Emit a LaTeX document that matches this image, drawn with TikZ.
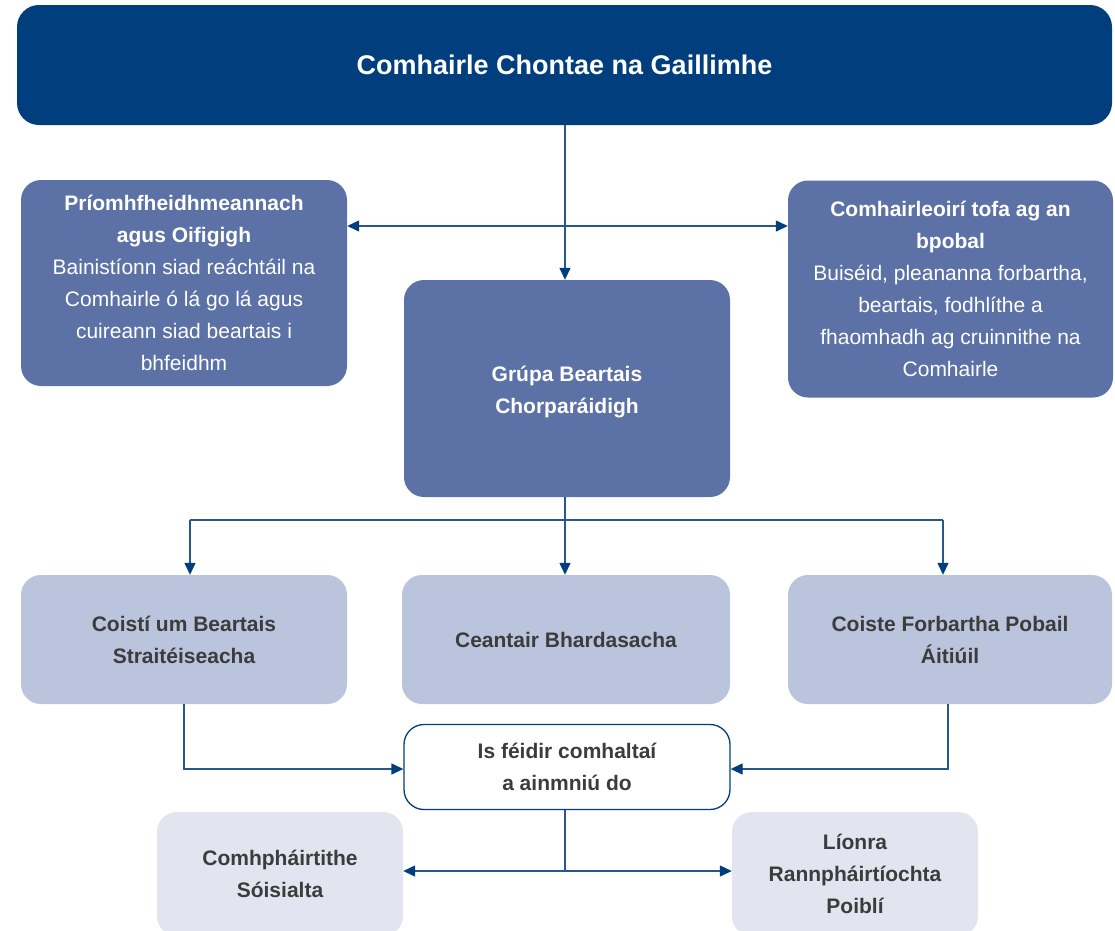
\documentclass[tikz,border=0pt]{standalone}
\usepackage{fontspec}
\setmainfont{Liberation Sans}
\usetikzlibrary{arrows.meta}
\definecolor{navy}{HTML}{003E7E}
\definecolor{midblue}{HTML}{5C72A6}
\definecolor{lightblue}{HTML}{BBC4DD}
\definecolor{paleblue}{HTML}{E2E4F0}
\definecolor{linecol}{HTML}{2A5690}
\definecolor{darktext}{HTML}{3C3C3C}
\tikzset{
  box/.style={rectangle, rounded corners=20pt, inner sep=0pt, align=center,
    font=\fontsize{21}{32}\selectfont},
  topbox/.style={box, fill=navy, text=white, rounded corners=22pt,
    font=\fontsize{27}{32}\selectfont\bfseries},
  midbox/.style={box, fill=midblue, text=white},
  lightbox/.style={box, fill=lightblue, text=darktext, font=\fontsize{21}{32}\selectfont\bfseries},
  palebox/.style={box, fill=paleblue, text=darktext, font=\fontsize{21}{32}\selectfont\bfseries},
  whitebox/.style={box, fill=white, draw=navy, line width=1.3pt, text=darktext, font=\fontsize{21}{32}\selectfont\bfseries},
  conn/.style={draw=linecol, line width=1.3pt},
  arr/.style={conn, -{Triangle[length=12pt,width=11pt,color=navy]}},
}
\begin{document}
\begin{tikzpicture}[x=1pt,y=-1pt]
\useasboundingbox (0,0) rectangle (1115,930);
\clip (0,0) rectangle (1115,930);
\fill[white] (0,0) rectangle (1115,930);

\node[topbox, minimum width=1095pt, minimum height=120pt] (top) at (564.5,65) {Comhairle Chontae na Gaillimhe};

\node[midbox, minimum width=326pt, minimum height=206pt] (exec) at (184,283)
  {\textbf{Príomhfheidhmeannach}\\\textbf{agus Oifigigh}\\Bainistíonn siad reáchtáil na\\Comhairle ó lá go lá agus\\cuireann siad beartais i\\bhfeidhm};

\node[midbox, minimum width=325pt, minimum height=217pt] (elected) at (950.5,289)
  {\textbf{Comhairleoirí tofa ag an}\\\textbf{bpobal}\\Buiséid, pleananna forbartha,\\beartais, fodhlíthe a\\fhaomhadh ag cruinnithe na\\Comhairle};

\node[midbox, minimum width=326pt, minimum height=217pt] (grupa) at (567,388.5)
  {\raisebox{-8pt}[0pt][0pt]{\begin{tabular}{@{}c@{}}\textbf{Grúpa Beartais}\\\textbf{Chorparáidigh}\end{tabular}}};

\node[lightbox, minimum width=326pt, minimum height=129pt] (coisti) at (184,639.5)
  {Coistí um Beartais\\Straitéiseacha};
\node[lightbox, minimum width=328pt, minimum height=129pt] (ceantair) at (566,639.5)
  {Ceantair Bhardasacha};
\node[lightbox, minimum width=324pt, minimum height=129pt] (coiste) at (950,639.5)
  {Coiste Forbartha Pobail\\Áitiúil};

\node[whitebox, minimum width=326pt, minimum height=85pt] (isfeidir) at (567,767)
  {Is féidir comhaltaí\\a ainmniú do};

\node[palebox, minimum width=246pt, minimum height=124pt] (comhph) at (280,874)
  {Comhpháirtithe\\Sóisialta};
\node[palebox, minimum width=246pt, minimum height=124pt] (lionra) at (855,874)
  {Líonra\\Rannpháirtíochta\\Poiblí};

% connectors
\coordinate (hub) at (565,226);
\draw[arr] (hub |- top.south) -- (hub |- grupa.north);
\draw[arr] (hub) -- (exec.east |- hub);
\draw[arr] (hub) -- (elected.west |- hub);

\coordinate (split) at (565,520);
\coordinate (splitL) at (190,520);
\coordinate (splitR) at (943,520);
\draw[conn] (split |- grupa.south) -- (split);
\draw[conn] (splitL) -- (splitR);
\draw[arr] (splitL) -- (splitL |- coisti.north);
\draw[arr] (split) -- (split |- ceantair.north);
\draw[arr] (splitR) -- (splitR |- coiste.north);

\draw[arr] (coisti.south) |- ([yshift=-2pt]isfeidir.west);
\draw[arr] ([xshift=-2pt]coiste.south) |- ([yshift=-2pt]isfeidir.east);

\coordinate (join) at (565,871);
\draw[conn] (isfeidir.south -| join) -- (join);
\draw[arr] (join) -- (comhph.east |- join);
\draw[arr] (join) -- (lionra.west |- join);
\end{tikzpicture}
\end{document}
